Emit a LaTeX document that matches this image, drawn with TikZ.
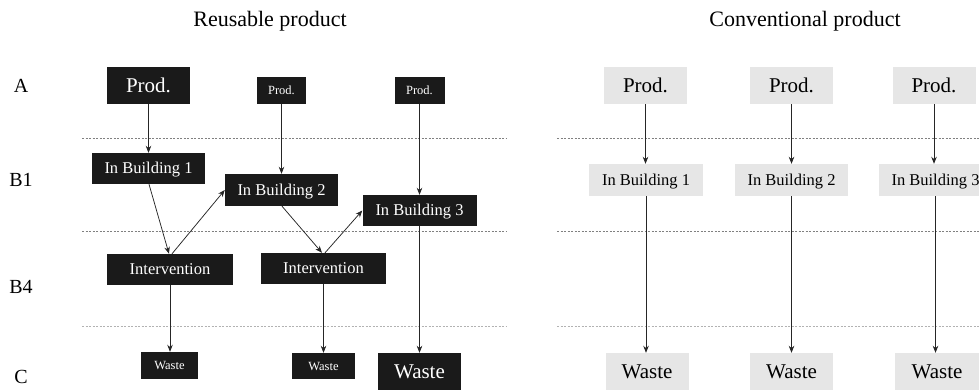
\documentclass[tikz,border=0pt]{standalone}
\usepackage{fontspec}
\setmainfont{Liberation Serif}
\usetikzlibrary{arrows.meta}
\definecolor{boxdark}{HTML}{1A1A1A}
\definecolor{boxlight}{HTML}{E6E6E6}
\begin{document}
\begin{tikzpicture}[x=1pt,y=-1pt,
  dbox/.style={fill=boxdark, text=white, inner sep=0pt},
  lbox/.style={fill=boxlight, text=black, inner sep=0pt},
  arr/.style={-{Stealth[length=7pt,width=5.5pt]}, line width=0.75pt, black!85},
  sepline/.style={dash pattern=on 2pt off 1.5pt, gray, line width=0.6pt},
  seplight/.style={dash pattern=on 2pt off 1.5pt, black!30, line width=0.6pt},
  fL/.style={font=\fontsize{21}{24}\selectfont, text height=13.9pt, text depth=0pt},
  fM/.style={font=\fontsize{16.5}{20}\selectfont, text height=10.9pt, text depth=0pt},
  fS/.style={font=\fontsize{12.5}{15}\selectfont, text height=8.3pt, text depth=0pt},
  lbl/.style={font=\fontsize{20}{24}\selectfont, anchor=base, inner sep=0pt},
  ttl/.style={font=\fontsize{22}{26}\selectfont, anchor=base, inner sep=0pt}]
\useasboundingbox (0,0) rectangle (979,390);
\clip (0,0) rectangle (979,390);

% titles and row labels
\node[ttl] (t1) at (270,27) {Reusable product};
\node[ttl] (t2) at (805,27) {Conventional product};
\node[lbl] (rA) at (21,93) {A};
\node[lbl] (rB1) at (21,186) {B1};
\node[lbl] (rB4) at (21,293) {B4};
\node[lbl] (rC) at (21,383) {C};

% separators
\coordinate (sL1) at (82,138);  \coordinate (eL1) at (507,138);
\coordinate (sL2) at (82,231);  \coordinate (eL2) at (507,231);
\coordinate (sL3) at (82,326);  \coordinate (eL3) at (507,326);
\coordinate (sR1) at (557,138); \coordinate (eR1) at (979,138);
\coordinate (sR2) at (557,231); \coordinate (eR2) at (979,231);
\coordinate (sR3) at (557,326); \coordinate (eR3) at (979,326);
\draw[sepline] (sL1) -- (eL1);
\draw[sepline] (sL2) -- (eL2);
\draw[seplight] (sL3) -- (eL3);
\draw[sepline] (sR1) -- (eR1);
\draw[sepline] (sR2) -- (eR2);
\draw[seplight] (sR3) -- (eR3);

% reusable product
\node[dbox, fL, minimum width=83, minimum height=37] (p1) at (148.5,85.5) {Prod.};
\node[dbox, fS, minimum width=49, minimum height=27] (p2) at (281.5,90.5) {Prod.};
\node[dbox, fS, minimum width=50, minimum height=27] (p3) at (419.5,90.5) {Prod.};
\node[dbox, fM, minimum width=113, minimum height=31] (b1) at (148.5,168.5) {In Building 1};
\node[dbox, fM, minimum width=113, minimum height=32] (b2) at (281.5,190) {In Building 2};
\node[dbox, fM, minimum width=114, minimum height=31] (b3) at (419.5,210.5) {In Building 3};
\node[dbox, fM, minimum width=126, minimum height=31] (i1) at (170,269.5) {Intervention};
\node[dbox, fM, minimum width=125, minimum height=31] (i2) at (323.5,268.5) {Intervention};
\node[dbox, fS, minimum width=57, minimum height=27] (w1) at (169.5,365.5) {Waste};
\node[dbox, fS, minimum width=63, minimum height=26] (w2) at (323.5,366) {Waste};
\node[dbox, fL, minimum width=83, minimum height=37] (w3) at (419.5,371.5) {Waste};

\draw[arr] (p1) -- (b1);
\draw[arr] (p2) -- (b2);
\draw[arr] (p3) -- (b3);
\draw[arr] ([xshift=0.5pt]b1.south) -- ([xshift=-1pt]i1.north);
\draw[arr] ([xshift=2pt]i1.north) -- (b2.west);
\draw[arr] ([xshift=0.5pt]b2.south) -- ([xshift=-1.5pt]i2.north);
\draw[arr] ([xshift=1.5pt]i2.north) -- (b3.west);
\draw[arr] (i1.south) -- (i1.south |- w1.north);
\draw[arr] (i2) -- (w2);
\draw[arr] (b3) -- (w3);

% conventional product
\node[lbox, fL, minimum width=83, minimum height=37] (q1) at (645.5,85.5) {Prod.};
\node[lbox, fL, minimum width=83, minimum height=37] (q2) at (791.5,85.5) {Prod.};
\node[lbox, fL, minimum width=83, minimum height=37] (q3) at (934,85.5) {Prod.};
\node[lbox, fM, minimum width=114, minimum height=32] (c1) at (646,180) {In Building 1};
\node[lbox, fM, minimum width=113, minimum height=32] (c2) at (791.5,180) {In Building 2};
\node[lbox, fM, minimum width=113, minimum height=32] (c3) at (935.5,180) {In Building 3};
\node[lbox, fL, minimum width=83, minimum height=37] (v1) at (647,371.5) {Waste};
\node[lbox, fL, minimum width=83, minimum height=37] (v2) at (791.5,371.5) {Waste};
\node[lbox, fL, minimum width=84, minimum height=37] (v3) at (937,371.5) {Waste};

\draw[arr] (q1.south) -- (q1.south |- c1.north);
\draw[arr] (q2) -- (c2);
\draw[arr] (q3.south) -- (q3.south |- c3.north);
\draw[arr] (c1.south) -- (c1.south |- v1.north);
\draw[arr] (c2) -- (v2);
\draw[arr] (c3.south) -- (c3.south |- v3.north);
\end{tikzpicture}
\end{document}
